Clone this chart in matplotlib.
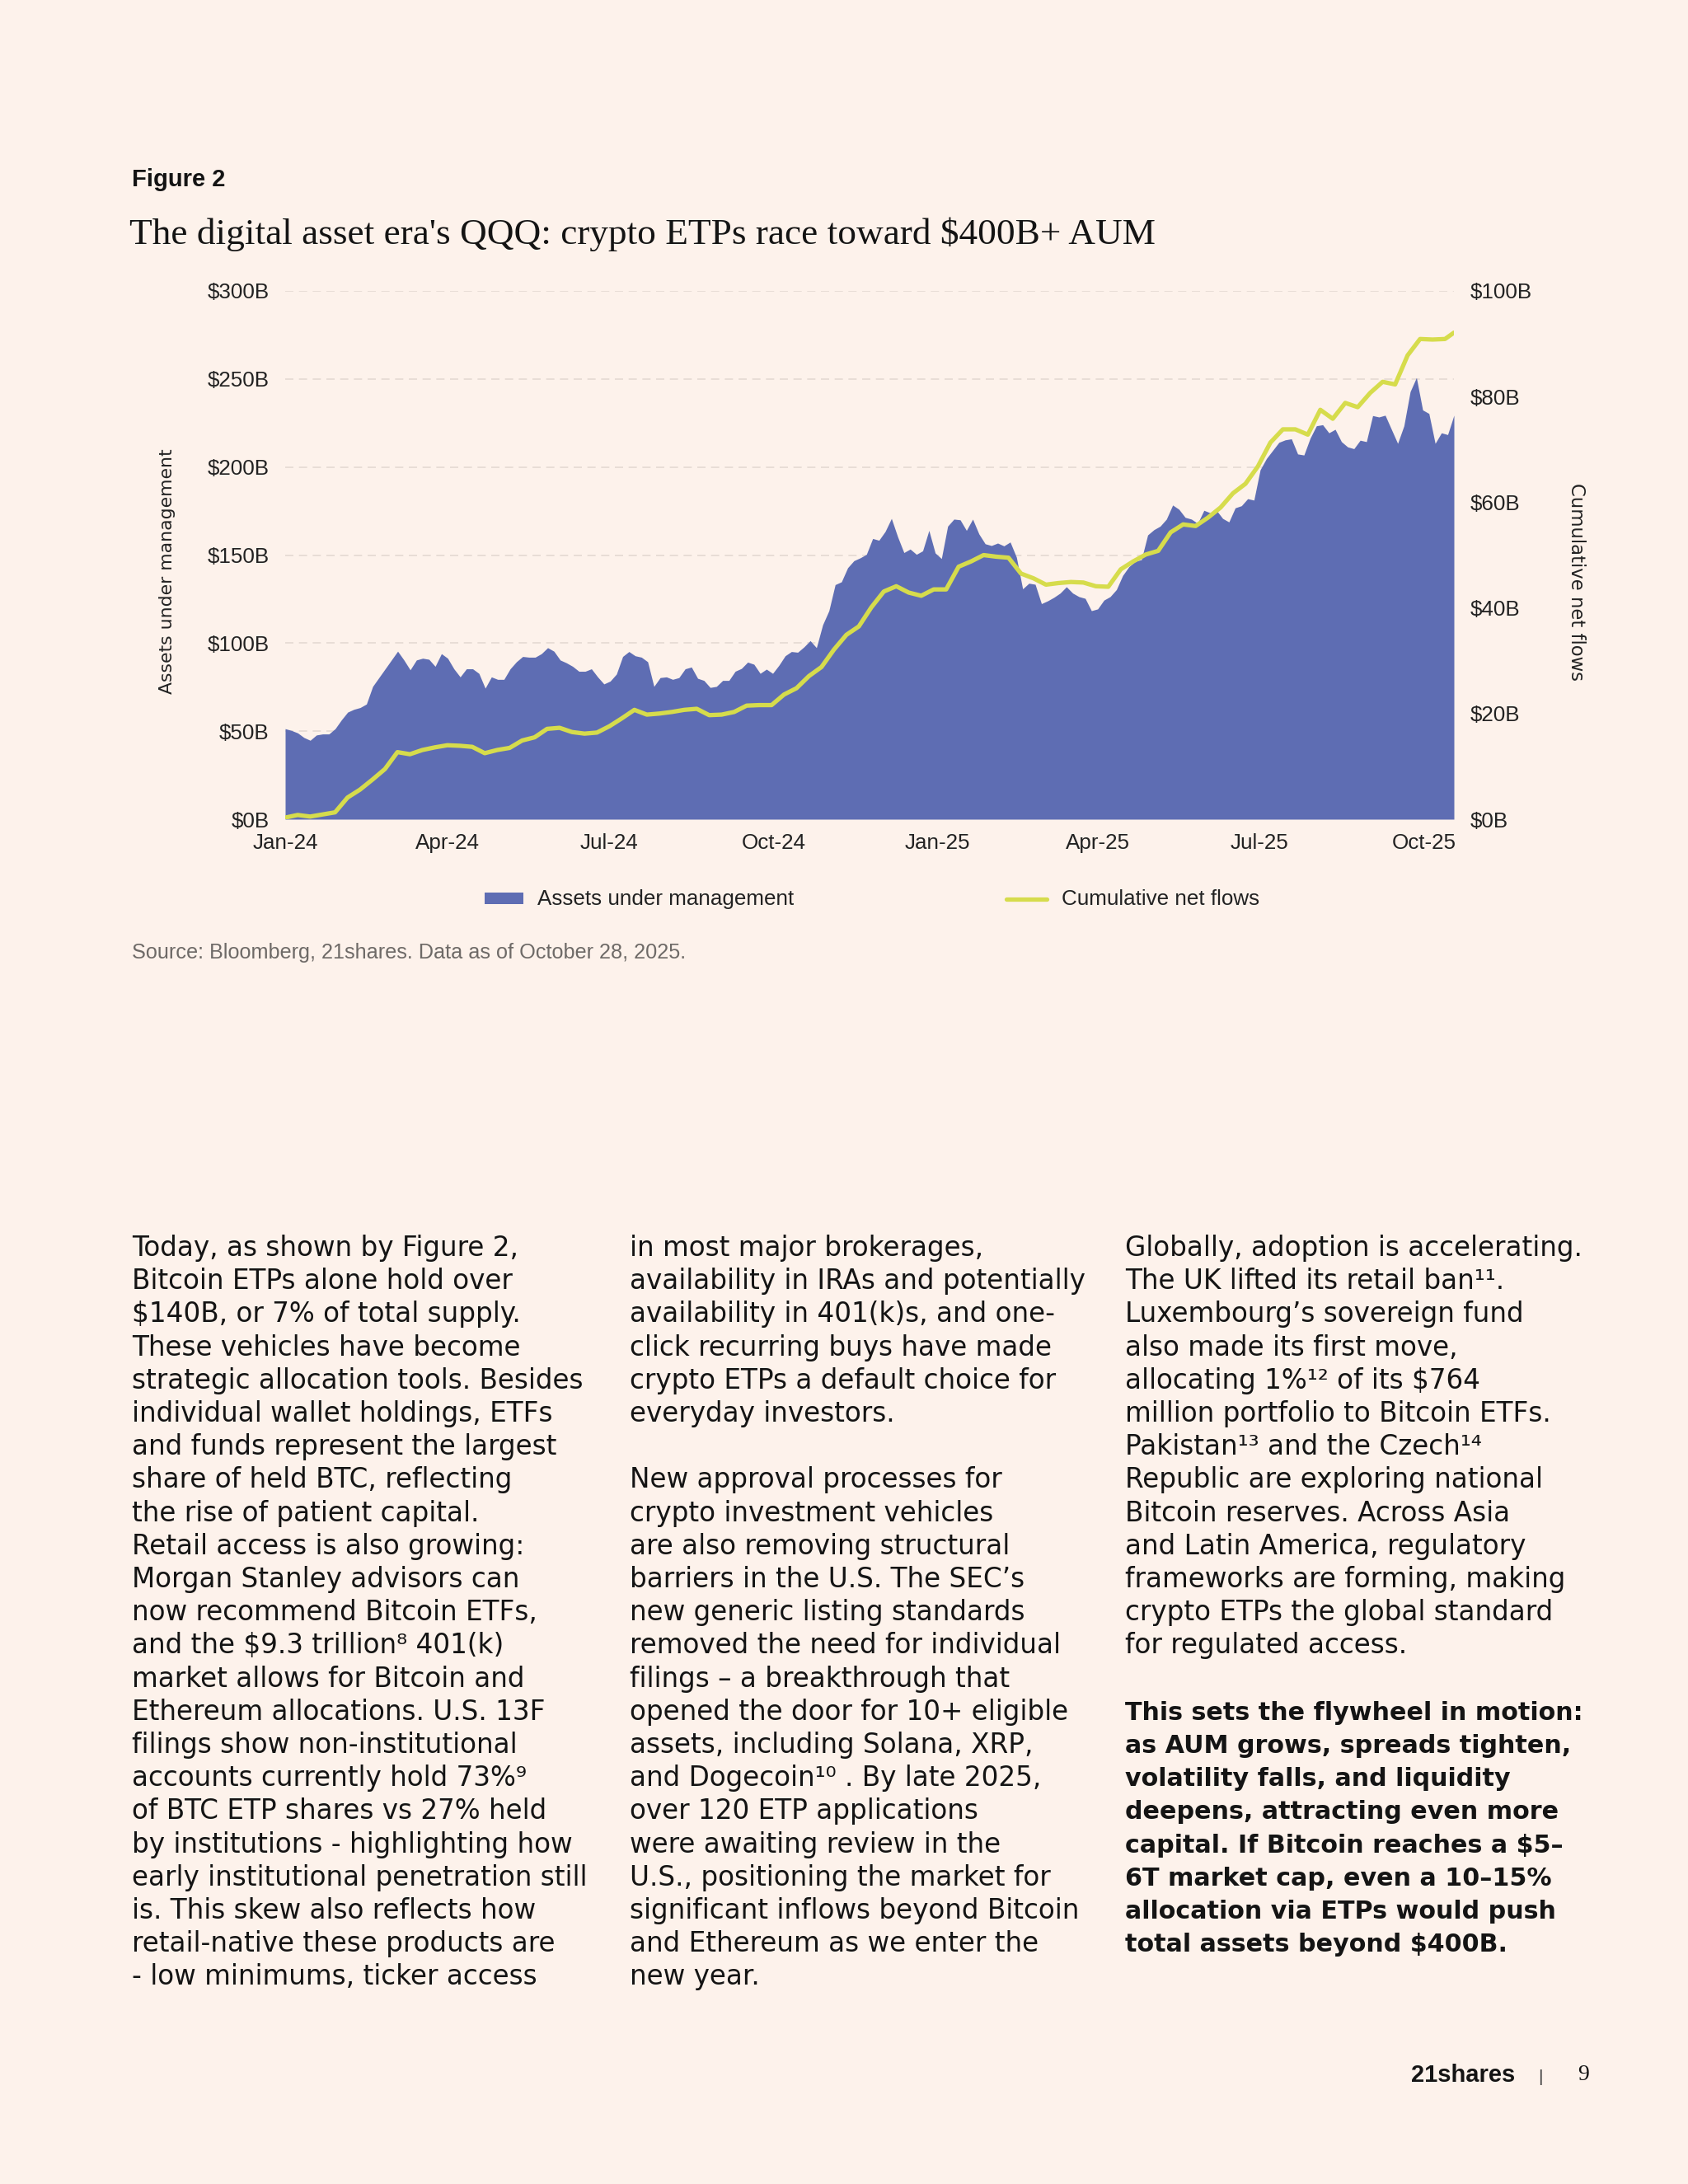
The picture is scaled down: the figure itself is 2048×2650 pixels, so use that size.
import matplotlib
matplotlib.use('Agg')
import matplotlib.pyplot as plt
from matplotlib.patches import Rectangle
from matplotlib.lines import Line2D
import pandas as pd

# ---- data ----
aum_dates = pd.date_range('2024-01-11', '2025-10-28', periods=188)
aum = [51.4, 50.4, 49.0, 46.4, 44.8, 47.8, 48.4, 48.4, 51.4, 56.4,
       60.8, 62.4, 63.4, 65.4, 75.4, 80.4, 85.4, 90.4, 95.4, 90.4,
       84.8, 90.4, 91.4, 90.8, 86.8, 94.0, 91.4, 85.4, 80.8, 85.4,
       85.4, 82.8, 74.4, 80.8, 79.4, 79.4, 85.4, 89.4, 92.4, 92.0,
       92.0, 94.0, 97.4, 95.4, 90.4, 88.8, 86.8,
       84.0, 84.0, 85.4, 80.8, 76.8, 78.4, 82.4, 92.4, 95.2, 92.8,
       92.0, 89.4, 75.4, 80.4, 80.8, 79.4, 80.4, 85.4, 86.4, 80.0,
       78.8, 74.8, 75.4, 78.8, 78.8, 84.0, 85.6, 89.2, 88.0, 82.8,
       85.2, 82.8, 87.4, 92.8, 95.2, 94.8, 97.8, 101.4, 97.4, 110.4,
       118.4, 133.2, 134.8, 142.8, 146.8, 148.4, 150.4, 159.4,
       158.4, 163.4, 170.8, 160.4, 151.4, 153.4, 150.4, 152.4, 164.0, 151.2,
       148.0, 166.4, 170.4, 170.0, 164.0, 170.4, 162.0, 156.4, 155.4, 156.8,
       155.2, 157.4, 148.8, 130.8, 134.0, 133.4, 122.4, 124.0, 126.0, 128.4,
       132.0, 128.4, 126.4, 125.4, 118.4, 119.4, 124.4, 126.4, 130.4, 138.4,
       143.4, 146.4, 147.4, 161.4, 164.4, 166.4, 170.4,
       178.4, 176.0, 171.4, 170.4, 168.0, 175.4, 174.0, 175.4, 170.8, 168.8,
       176.8, 178.0, 182.0, 181.2, 198.4, 204.8, 209.4, 214.0, 215.4, 216.0,
       207.4, 206.8, 216.4, 223.4, 224.0, 219.4, 221.4, 214.4, 211.4, 210.4,
       215.2, 214.4, 229.2, 228.4, 229.4, 221.4, 213.4, 223.4, 242.8, 250.8,
       232.4, 230.4, 213.4, 219.4, 218.4, 229.4]

flow_dates = pd.date_range('2024-01-11', periods=94, freq='7D').append(pd.DatetimeIndex(['2025-10-28']))
flows = [0.3, 0.8, 0.5, 0.9, 1.3, 4.1, 5.6, 7.5, 9.5, 12.7,
         12.3, 13.1, 13.6, 14.0, 13.9, 13.7, 12.5, 13.1, 13.5, 14.9,
         15.5, 17.1, 17.3, 16.5, 16.2, 16.4, 17.6, 19.1, 20.7, 19.8,
         20.0, 20.3, 20.7, 20.9, 19.7, 19.8, 20.3, 21.5, 21.6, 21.6,
         23.6, 24.8, 27.1, 28.8, 32.1, 34.9, 36.5, 40.1, 43.1, 44.1,
         42.9, 42.3, 43.5, 43.5, 47.8, 48.8, 50.0, 49.7, 49.5, 46.5,
         45.6, 44.4, 44.7, 44.9, 44.8, 44.1, 44.0, 47.3, 48.8, 50.1,
         50.8, 54.3, 55.8, 55.5, 57.1, 59.0, 61.7, 63.5, 66.8, 71.3,
         73.8, 73.8, 72.8, 77.5, 75.8, 78.8, 78.0, 80.7, 82.8, 82.3,
         87.8, 90.9, 90.8, 90.9, 92.1]

xtick_dates = pd.to_datetime(['2024-01-11', '2024-04-11', '2024-07-11', '2024-10-11',
                              '2025-01-11', '2025-04-11', '2025-07-11', '2025-10-11'])
xtick_labels = ['Jan-24', 'Apr-24', 'Jul-24', 'Oct-24', 'Jan-25', 'Apr-25', 'Jul-25', 'Oct-25']
left_ticks = [0, 50, 100, 150, 200, 250, 300]
right_ticks = [0, 20, 40, 60, 80, 100]

col1 = ["Today, as shown by Figure 2,",
        "Bitcoin ETPs alone hold over",
        "$140B, or 7% of total supply.",
        "These vehicles have become",
        "strategic allocation tools. Besides",
        "individual wallet holdings, ETFs",
        "and funds represent the largest",
        "share of held BTC, reflecting",
        "the rise of patient capital.",
        "Retail access is also growing:",
        "Morgan Stanley advisors can",
        "now recommend Bitcoin ETFs,",
        "and the $9.3 trillion\u2078 401(k)",
        "market allows for Bitcoin and",
        "Ethereum allocations. U.S. 13F",
        "filings show non-institutional",
        "accounts currently hold 73%\u2079",
        "of BTC ETP shares vs 27% held",
        "by institutions - highlighting how",
        "early institutional penetration still",
        "is. This skew also reflects how",
        "retail-native these products are",
        "- low minimums, ticker access"]
col2 = ["in most major brokerages,",
        "availability in IRAs and potentially",
        "availability in 401(k)s, and one-",
        "click recurring buys have made",
        "crypto ETPs a default choice for",
        "everyday investors.",
        "",
        "New approval processes for",
        "crypto investment vehicles",
        "are also removing structural",
        "barriers in the U.S. The SEC\u2019s",
        "new generic listing standards",
        "removed the need for individual",
        "filings \u2013 a breakthrough that",
        "opened the door for 10+ eligible",
        "assets, including Solana, XRP,",
        "and Dogecoin\u00b9\u2070 . By late 2025,",
        "over 120 ETP applications",
        "were awaiting review in the",
        "U.S., positioning the market for",
        "significant inflows beyond Bitcoin",
        "and Ethereum as we enter the",
        "new year."]
col3 = ["Globally, adoption is accelerating.",
        "The UK lifted its retail ban\u00b9\u00b9.",
        "Luxembourg\u2019s sovereign fund",
        "also made its first move,",
        "allocating 1%\u00b9\u00b2 of its $764",
        "million portfolio to Bitcoin ETFs.",
        "Pakistan\u00b9\u00b3 and the Czech\u00b9\u2074",
        "Republic are exploring national",
        "Bitcoin reserves. Across Asia",
        "and Latin America, regulatory",
        "frameworks are forming, making",
        "crypto ETPs the global standard",
        "for regulated access.",
        ""]
col3_bold = ["This sets the flywheel in motion:",
             "as AUM grows, spreads tighten,",
             "volatility falls, and liquidity",
             "deepens, attracting even more",
             "capital. If Bitcoin reaches a $5\u2013",
             "6T market cap, even a 10\u201315%",
             "allocation via ETPs would push",
             "total assets beyond $400B."]

# ---- style ----
BG = '#FDF2EB'
AUM_C = '#5E6DB3'
FLOW_C = '#D6DC4C'
INK = '#141414'
W, H = 2048, 2650
CHART_FONT = ['Liberation Sans', 'DejaVu Sans']
BODY_FONT = ['DejaVu Sans']


def fx(px):
    return px / W


def fy(py):
    return 1 - py / H


def esc(s):
    return s.replace('$', r'\$')


fig = plt.figure(figsize=(W / 100, H / 100), dpi=100, facecolor=BG)

fig.text(fx(160), fy(218), 'Figure 2', fontsize=21, fontweight='bold',
         family=CHART_FONT, color=INK, va='center', ha='left')
fig.text(fx(157), fy(284), esc("The digital asset era's QQQ: crypto ETPs race toward $400B+ AUM"),
         fontsize=32.6, family=['Liberation Serif', 'DejaVu Serif'], color=INK,
         va='center', ha='left')

ax = fig.add_axes([fx(346), fy(994), (1764 - 346) / W, (994 - 353) / H])
ax.set_facecolor('none')
ax.fill_between(aum_dates, aum, 0, color=AUM_C, lw=0, zorder=2)
ax.set_ylim(0, 300)
ax.set_xlim(aum_dates[0], aum_dates[-1])
ax.set_yticks(left_ticks)
ax.set_yticklabels([esc('$%dB' % v) for v in left_ticks])
ax.set_xticks(xtick_dates)
ax.set_xticklabels(xtick_labels)
ax.yaxis.grid(True, color='#E4D9D2', lw=1.2, ls=(0, (6, 4)))
ax.set_axisbelow(True)
ax.tick_params(axis='both', length=0, labelsize=18.7, labelcolor='#222222')
ax.tick_params(axis='y', pad=14)
ax.tick_params(axis='x', pad=12)
for lab in ax.get_xticklabels() + ax.get_yticklabels():
    lab.set_family(CHART_FONT)
for s in ax.spines.values():
    s.set_visible(False)

ax2 = ax.twinx()
ax2.plot(flow_dates, flows, color=FLOW_C, lw=3.8, solid_capstyle='round',
         solid_joinstyle='round', zorder=3)
ax2.set_ylim(0, 100)
ax2.set_yticks(right_ticks)
ax2.set_yticklabels([esc('$%dB' % v) for v in right_ticks])
ax2.tick_params(axis='y', length=0, labelsize=18.7, labelcolor='#222222', pad=14)
for lab in ax2.get_yticklabels():
    lab.set_family(CHART_FONT)
for s in ax2.spines.values():
    s.set_visible(False)
ax2.set_xlim(aum_dates[0], aum_dates[-1])

fig.text(fx(203), fy(693), 'Assets under management', rotation=90, fontsize=15.8,
         family=BODY_FONT, color='#222222', va='center', ha='center')
fig.text(fx(1913), fy(706), 'Cumulative net flows', rotation=270, fontsize=16.4,
         family=BODY_FONT, color='#222222', va='center', ha='center')

# legend
fig.patches.append(Rectangle((fx(588), fy(1097)), (635 - 588) / W, 14 / H,
                             transform=fig.transFigure, color=AUM_C, lw=0))
fig.text(fx(652), fy(1091), 'Assets under management', fontsize=18.7,
         family=CHART_FONT, color='#222222', va='center', ha='left')
fig.lines.append(Line2D([fx(1221), fx(1270)], [fy(1091), fy(1091)],
                        transform=fig.transFigure, color=FLOW_C, lw=3.8,
                        solid_capstyle='round'))
fig.text(fx(1288), fy(1091), 'Cumulative net flows', fontsize=18.7,
         family=CHART_FONT, color='#222222', va='center', ha='left')

fig.text(fx(160), fy(1156), 'Source: Bloomberg, 21shares. Data as of October 28, 2025.',
         fontsize=18.2, family=CHART_FONT, color='#6E6A67', va='center', ha='left')

# body text, one line at a time
LINE0 = 1524
STEP = 40.2
for x0, lines in [(160, col1), (764, col2), (1365, col3)]:
    for i, line in enumerate(lines):
        fig.text(fx(x0), fy(LINE0 + i * STEP), esc(line), fontsize=23.5,
                 family=BODY_FONT, color=INK, va='baseline', ha='left')
for i, line in enumerate(col3_bold):
    fig.text(fx(1365), fy(LINE0 + (len(col3) + i) * STEP), esc(line), fontsize=21.7,
             fontweight='bold', family=BODY_FONT, color=INK, va='baseline', ha='left')

# footer
fig.text(fx(1838), fy(2518), '21shares', fontsize=21, fontweight='bold',
         family=CHART_FONT, color=INK, va='center', ha='right')
fig.text(fx(1869), fy(2520), '|', fontsize=15, family=CHART_FONT, color='#444444',
         va='center', ha='center')
fig.text(fx(1928), fy(2518), '9', fontsize=20, family=['Liberation Serif', 'DejaVu Serif'],
         color=INK, va='center', ha='right')

fig.savefig('out.png', dpi=100, facecolor=BG)
